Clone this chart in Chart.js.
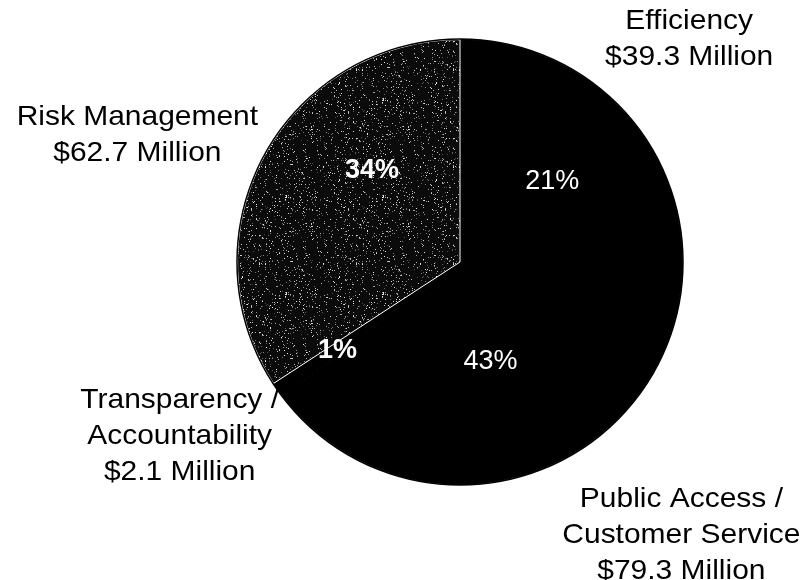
<!DOCTYPE html>
<html>
<head>
<meta charset="utf-8">
<script src="https://cdn.jsdelivr.net/npm/chart.js@4/dist/chart.umd.min.js"></script>
<style>
  html, body { margin: 0; padding: 0; background: #fff; }
  #wrap { width: 803px; height: 580px; position: relative; }
</style>
</head>
<body>
<div id="wrap"><canvas id="pie"></canvas></div>
<script>
const categories = ["Efficiency", "Public Access / Customer Service", "Transparency / Accountability", "Risk Management"];
const amounts = [39.3, 79.3, 2.1, 62.7];
const percentLabels = ["21%", "43%", "1%", "34%"];
const nameLines = [
  ["Efficiency", "$39.3 Million"],
  ["Public Access /", "Customer Service", "$79.3 Million"],
  ["Transparency /", "Accountability", "$2.1 Million"],
  ["Risk Management", "$62.7 Million"],
];

// speckled fill for the risk slice (fixed hash, just a texture)
function speckle() {
  const c = document.createElement("canvas");
  c.width = 97;
  c.height = 97;
  const g = c.getContext("2d");
  g.fillStyle = "#0b0b0b";
  g.fillRect(0, 0, c.width, c.height);
  let s = 12345;
  for (let i = 0; i < 700; i++) {
    s = (s * 1103515245 + 12345) & 0x7fffffff;
    const x = s % 97;
    s = (s * 1103515245 + 12345) & 0x7fffffff;
    const y = s % 97;
    s = (s * 1103515245 + 12345) & 0x7fffffff;
    const v = 70 + (s % 170);
    g.fillStyle = "rgb(" + v + "," + v + "," + v + ")";
    g.fillRect(x, y, 1, 1);
  }
  return g.createPattern(c, "repeat");
}

// polar spots for the % labels: [angle from top in deg, fraction of radius]
const pctSpots = [[49, 0.55], [163, 0.47], [234, 0.68], [316, 0.57]];
const pctBold = [false, false, true, true];
// text blocks: centre x, first baseline (relative to pie centre, in radii)
const nameSpots = [[1.03, -1.045], [0.995, 1.1], [-1.26, 0.655], [-1.45, -0.615]];

const labelPlugin = {
  id: "pieLabels",
  afterDatasetsDraw(chart) {
    const { ctx } = chart;
    const arcs = chart.getDatasetMeta(0).data;
    const cx = arcs[0].x, cy = arcs[0].y, r = arcs[0].outerRadius;

    // dark outer rim
    ctx.save();
    ctx.beginPath();
    ctx.arc(cx, cy, r + 0.5, 0, Math.PI * 2);
    ctx.strokeStyle = "#000";
    ctx.lineWidth = 1.5;
    ctx.stroke();

    ctx.textAlign = "center";
    ctx.textBaseline = "middle";
    ctx.fillStyle = "#fff";
    percentLabels.forEach((txt, i) => {
      const a = pctSpots[i][0] * Math.PI / 180;
      const d = pctSpots[i][1] * r;
      ctx.font = (pctBold[i] ? "bold " : "") + "27px 'Liberation Sans', Arial, sans-serif";
      ctx.fillText(txt, cx + d * Math.sin(a), cy - d * Math.cos(a));
    });

    ctx.textBaseline = "alphabetic";
    ctx.fillStyle = "#000";
    ctx.font = "28px 'Liberation Sans', Arial, sans-serif";
    nameLines.forEach((lines, i) => {
      const x = cx + nameSpots[i][0] * r;
      const y = cy + nameSpots[i][1] * r;
      lines.forEach((line, j) => {
        ctx.save();
        ctx.translate(x, y + j * 36);
        ctx.scale(1.07, 1);
        ctx.fillText(line, 0, 0);
        ctx.restore();
      });
    });
    ctx.restore();
  },
};

new Chart(document.getElementById("pie"), {
  type: "pie",
  data: {
    labels: categories,
    datasets: [
      {
        data: amounts,
        backgroundColor: ["#000", "#000", "#000", speckle()],
        borderColor: ["#000", "#000", "#000", "#fff"],
        borderWidth: 1,
      },
    ],
  },
  options: {
    responsive: true,
    maintainAspectRatio: false,
    animation: false,
    layout: { padding: { top: 38, bottom: 94, left: 237, right: 120 } },
    plugins: {
      legend: { display: false },
      tooltip: { enabled: false },
    },
  },
  plugins: [labelPlugin],
});
</script>
</body>
</html>
